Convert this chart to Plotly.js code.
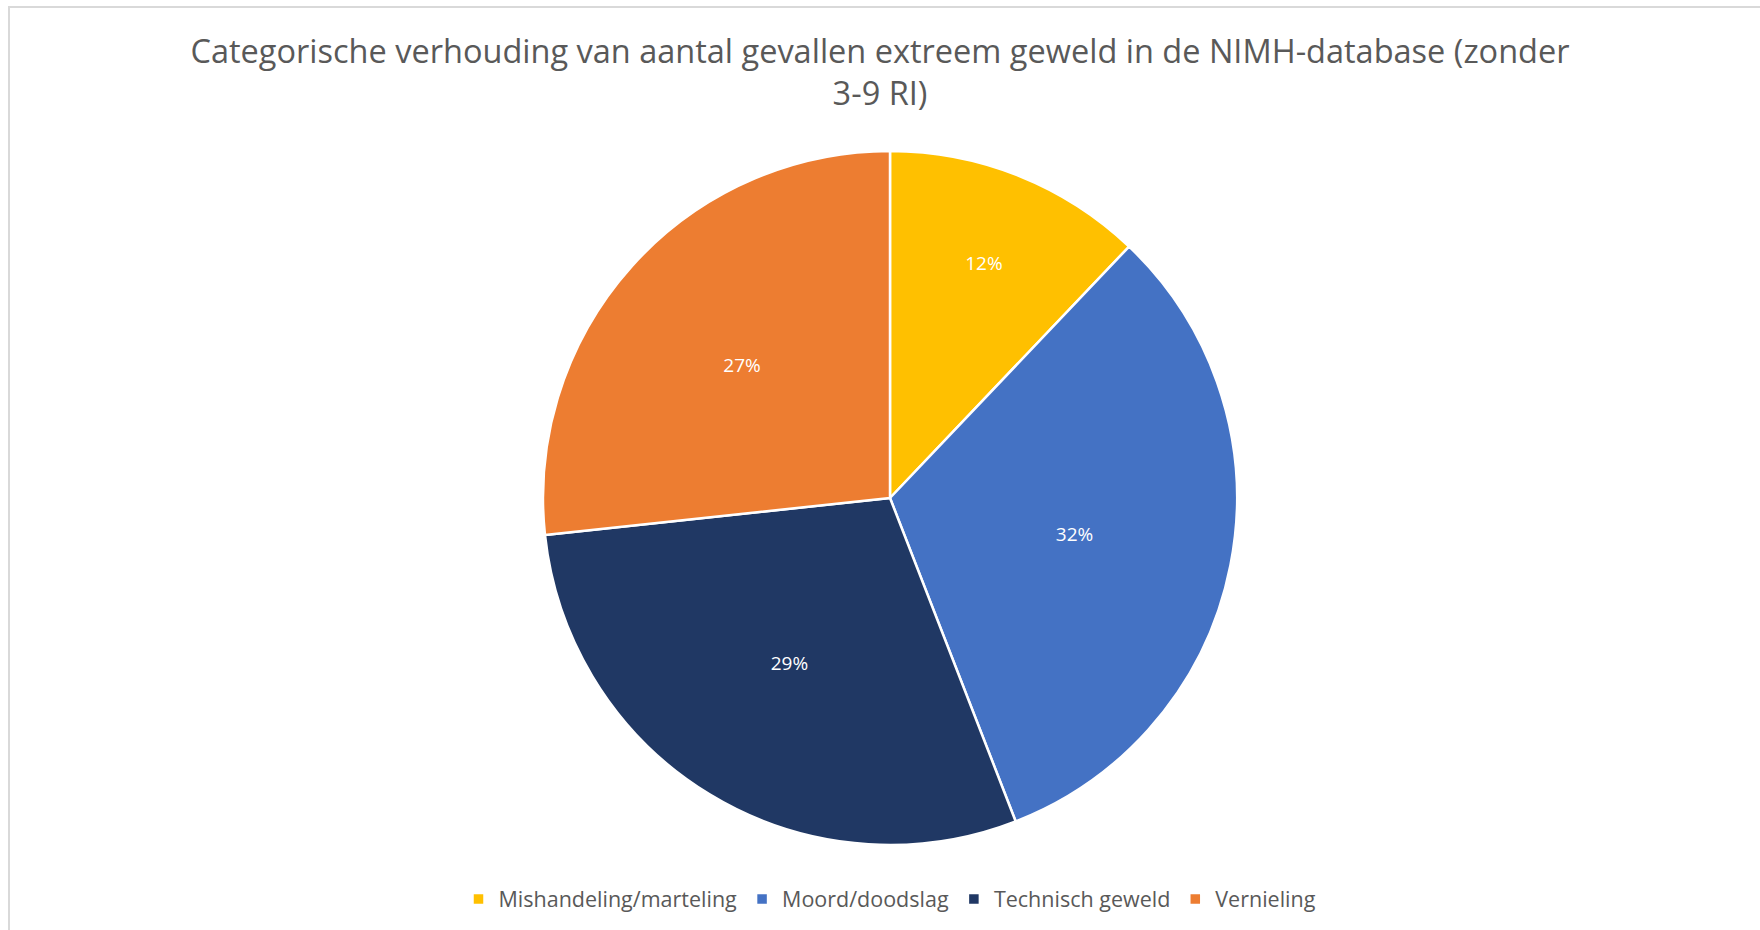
<!DOCTYPE html>
<html>
<head>
<meta charset="utf-8">
<script src="https://cdn.plot.ly/plotly-3.0.1.min.js"></script>
<style>
  html, body { margin: 0; padding: 0; background: #fff; }
  #wrap { position: relative; width: 1760px; height: 930px; overflow: hidden; }
  #chart { position: absolute; left: 0; top: 0; width: 1760px; height: 930px; }
  #frame { position: absolute; left: 8px; top: 6px; width: 1800px; height: 960px; border: 2px solid #d9d9d9; pointer-events: none; }
</style>
</head>
<body>
<div id="wrap">
  <div id="chart"></div>
  <div id="frame"></div>
</div>
<script>
const categories = ["Mishandeling/marteling", "Moord/doodslag", "Technisch geweld", "Vernieling"];
const shares = [12.1, 32.0, 29.2, 26.7];
const colors = ["#FFC000", "#4472C4", "#203864", "#ED7D31"];
const titleText = "Categorische verhouding van aantal gevallen extreem geweld in de NIMH-database (zonder<br>3-9 RI)";

const figH = 930, marginTop = 151, marginBottom = 85;
const plotH = figH - marginTop - marginBottom;

const data = [{
  type: "pie",
  labels: categories,
  values: shares,
  sort: false,
  direction: "clockwise",
  rotation: 0,
  marker: { colors: colors, line: { color: "#ffffff", width: 2.5 } },
  texttemplate: "%{percent:.0%}",
  textposition: "inside",
  insidetextorientation: "horizontal",
  textfont: { family: "Open Sans, sans-serif", size: 19, color: "#ffffff" },
  hoverinfo: "label+percent"
}];

const layout = {
  width: 1760, height: 930,
  paper_bgcolor: "#ffffff",
  margin: { l: 20, r: 0, t: marginTop, b: marginBottom },
  title: {
    text: titleText,
    font: { family: "Open Sans, sans-serif", size: 32.5, color: "#595959" },
    x: 0.5, xanchor: "center",
    y: 1 - 63 / figH, yanchor: "middle"
  },
  showlegend: true,
  legend: {
    orientation: "h",
    x: 0.5, xanchor: "center",
    y: -54 / plotH, yanchor: "middle",
    font: { family: "Open Sans, sans-serif", size: 21.5, color: "#595959" },
    itemwidth: 30,
    traceorder: "normal"
  }
};

Plotly.newPlot("chart", data, layout, { displayModeBar: false, staticPlot: true });
</script>
</body>
</html>
